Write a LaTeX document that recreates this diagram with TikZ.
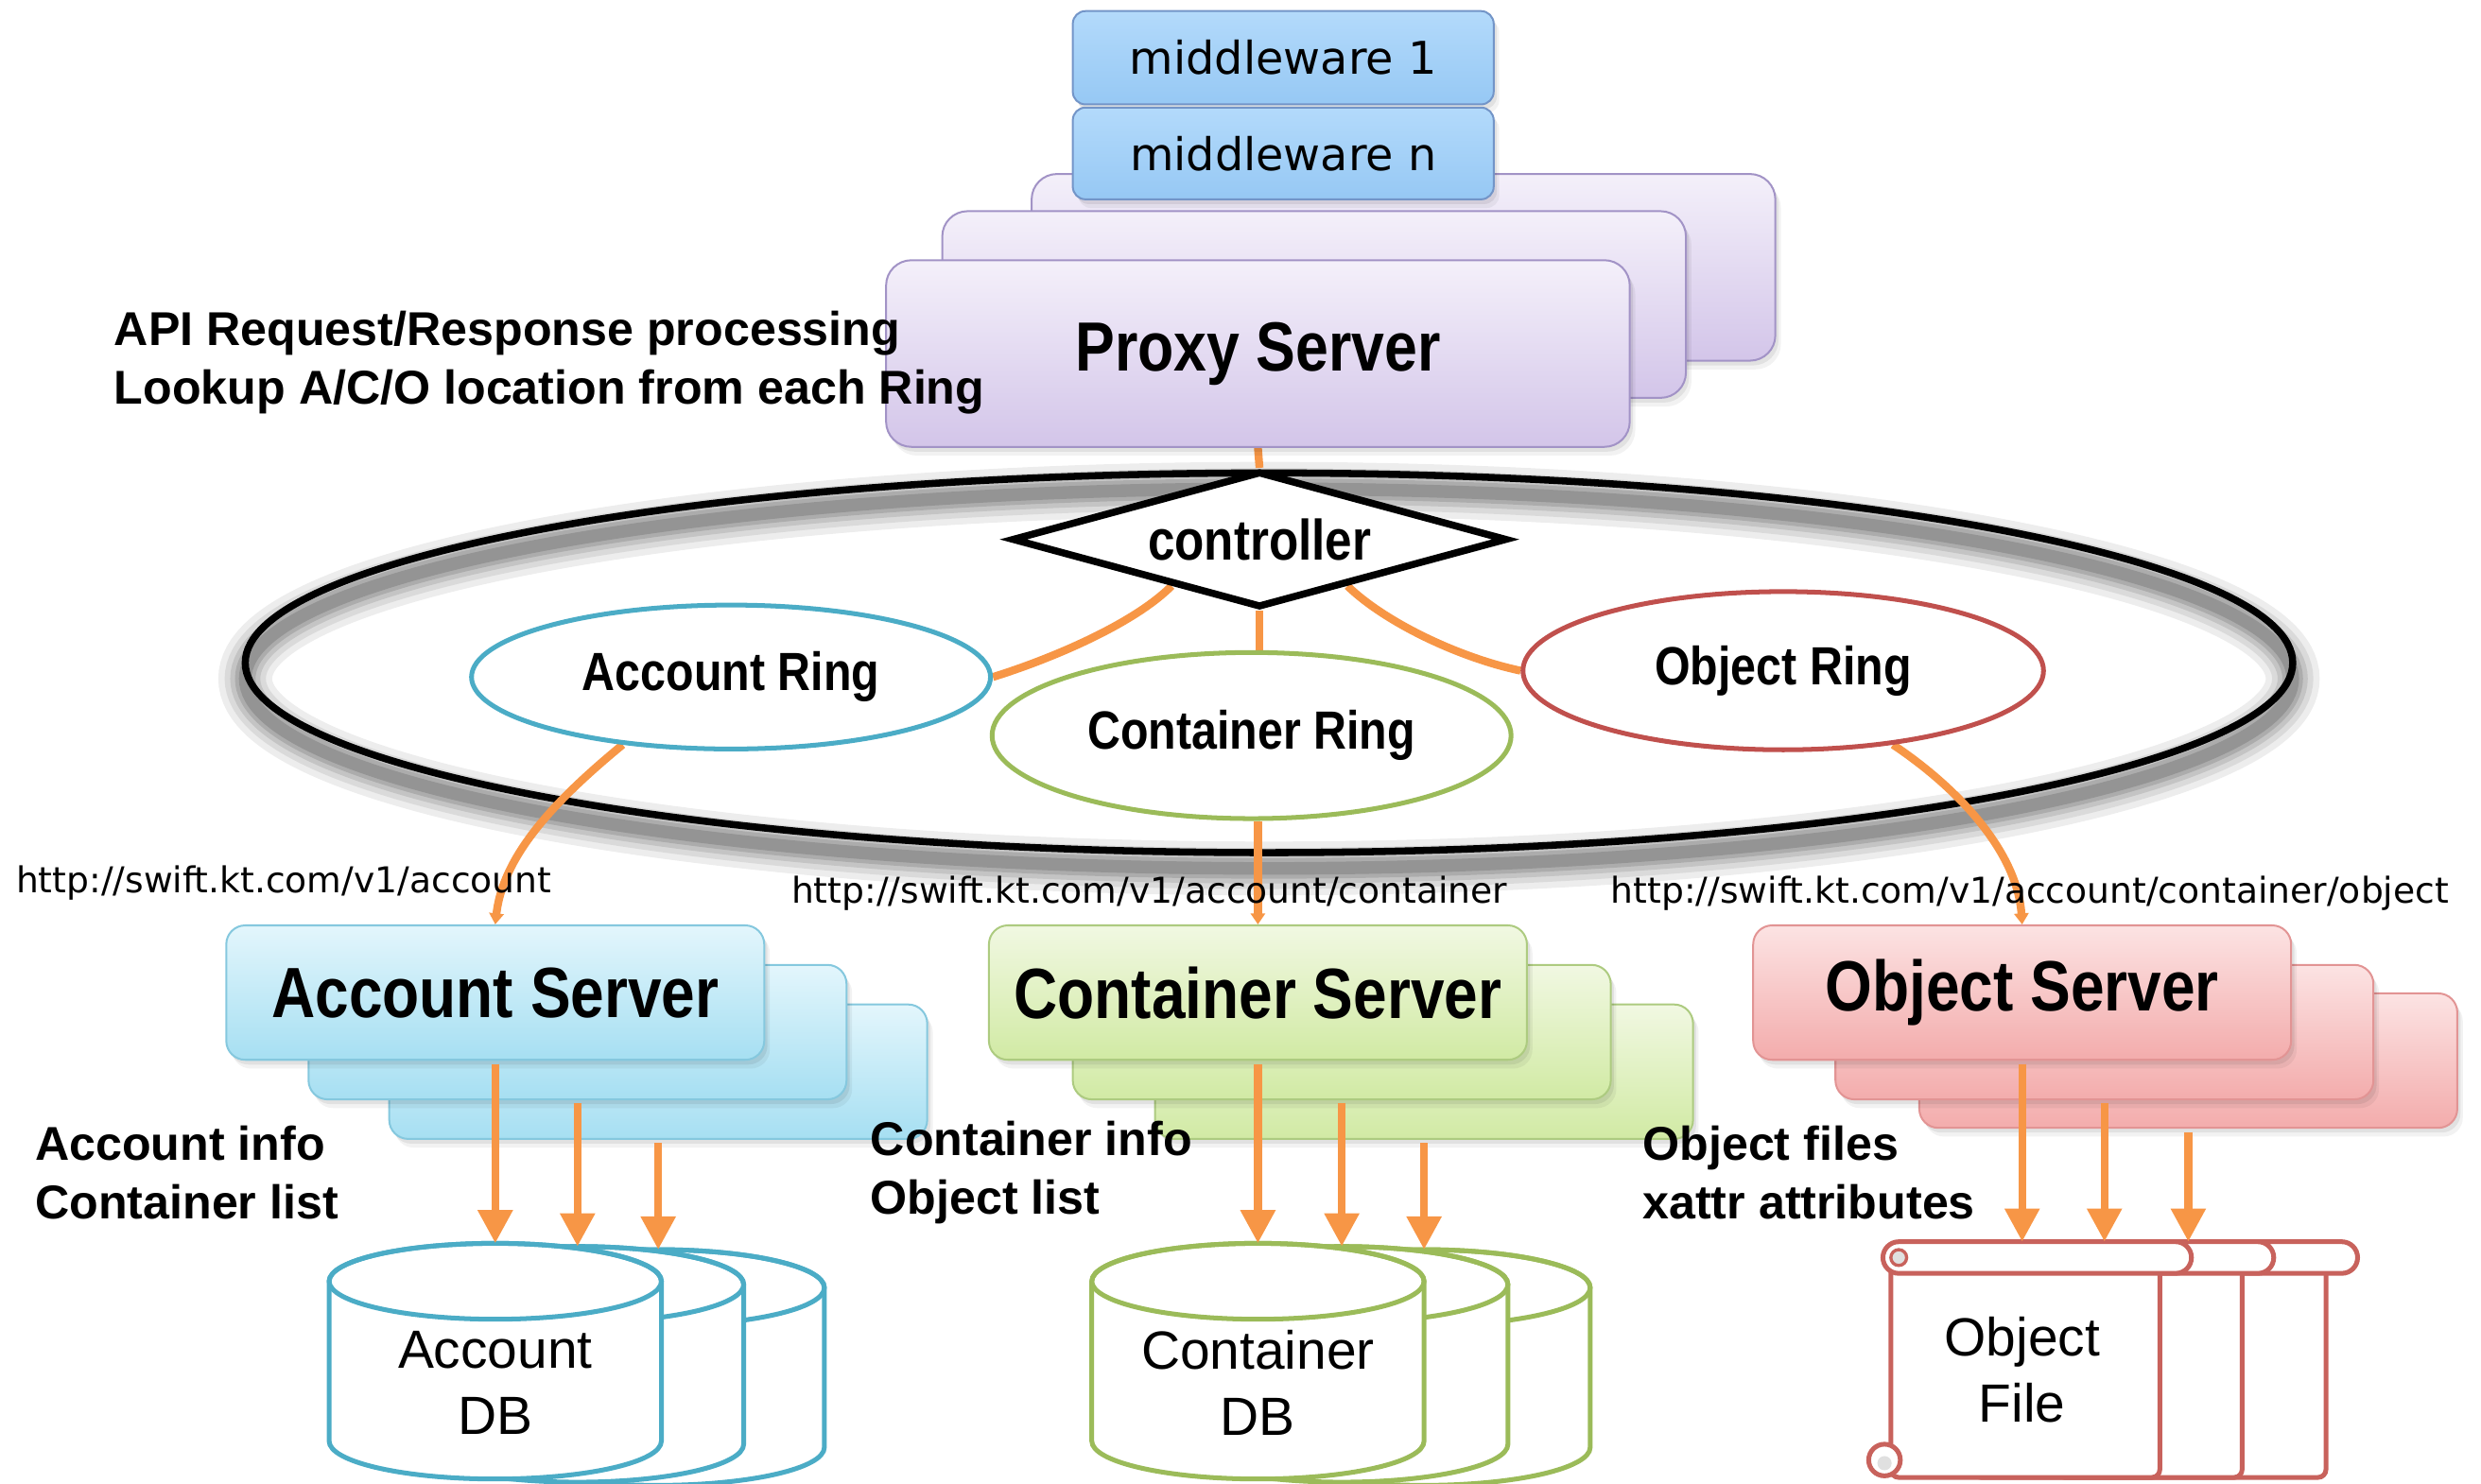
\documentclass[tikz,border=0pt]{standalone}
\usepackage{fontspec}
\setmainfont{Liberation Sans}
\newfontfamily\condfont{Liberation Sans}[FakeStretch=0.85]
\newfontfamily\widefont{DejaVu Sans}
\usetikzlibrary{shapes.geometric,arrows.meta,calc,shadows}

\definecolor{orangeln}{HTML}{F79646}
\definecolor{ringblue}{HTML}{4BACC6}
\definecolor{ringgreen}{HTML}{9BBB59}
\definecolor{ringred}{HTML}{C0504D}
\definecolor{scrollred}{HTML}{C8625C}
\definecolor{mwtop}{HTML}{B3DAFB}
\definecolor{mwbot}{HTML}{96C8F4}
\definecolor{mwline}{HTML}{7395C8}
\definecolor{pxtop}{HTML}{F4F0FA}
\definecolor{pxbot}{HTML}{D3C5E9}
\definecolor{pxline}{HTML}{A293C6}
\definecolor{actop}{HTML}{E3F6FC}
\definecolor{acbot}{HTML}{A6DFF2}
\definecolor{acline}{HTML}{85C8DE}
\definecolor{cttop}{HTML}{F1F8E2}
\definecolor{ctbot}{HTML}{D1EAA4}
\definecolor{ctline}{HTML}{ADCB80}
\definecolor{obtop}{HTML}{FCE3E3}
\definecolor{obbot}{HTML}{F3ACAC}
\definecolor{obline}{HTML}{E29494}

\pgfdeclarelayer{back}
\pgfsetlayers{back,main}

\tikzset{
  softdrop/.style={drop shadow={fill=black, opacity=0.07, shadow xshift=2pt, shadow yshift=-3pt},
                   drop shadow={fill=black, opacity=0.05, shadow xshift=3.5pt, shadow yshift=-5.5pt}},
  mwbox/.style={rectangle, rounded corners=8pt, draw=mwline, line width=1.2pt,
                top color=mwtop, bottom color=mwbot, minimum width=266pt, inner sep=0pt,
                softdrop, font={\widefont\fontsize{28.5}{34}\selectfont}},
  pxbox/.style={rectangle, rounded corners=16pt, draw=pxline, line width=1.2pt,
                top color=pxtop, bottom color=pxbot, minimum width=470pt,
                minimum height=118pt, inner sep=0pt, softdrop},
  srvbox/.style={rectangle, rounded corners=12pt, line width=1.2pt, minimum width=340pt,
                 minimum height=85pt, inner sep=0pt, softdrop,
                 font={\condfont\bfseries\fontsize{45}{52}\selectfont}},
  accsrv/.style={srvbox, draw=acline, top color=actop, bottom color=acbot},
  consrv/.style={srvbox, draw=ctline, top color=cttop, bottom color=ctbot},
  objsrv/.style={srvbox, draw=obline, top color=obtop, bottom color=obbot},
  ringnode/.style={ellipse, fill=white, line width=3pt, inner sep=0pt,
                   font={\condfont\bfseries\fontsize{34}{38}\selectfont}},
  conn/.style={draw=orangeln, line width=5pt},
  tipconn/.style={conn, -{Triangle[length=7pt,width=9pt]}},
  dbarrow/.style={draw=orangeln, line width=5pt, -{Triangle[length=21pt,width=21pt]}, shorten <=2pt},
  note/.style={anchor=west, align=left, inner sep=0pt, font=\bfseries\fontsize{30}{37}\selectfont},
  url/.style={anchor=west, inner sep=0pt, font={\widefont\fontsize{22.5}{27}\selectfont}},
  dblabel/.style={align=center, inner sep=0pt, font=\fontsize{34}{42}\selectfont},
}

% database cylinder: centre x, centre y of top ellipse, colour, name of top point
\newcommand\dbcyl[4]{%
  \filldraw[fill=white, draw=#3, line width=3pt]
    (#1-105,#2) -- (#1-105,#2+101)
    arc[start angle=180, end angle=0, x radius=105, y radius=24]
    -- (#1+105,#2)
    arc[start angle=0, end angle=-180, x radius=105, y radius=24] -- cycle;
  \draw[#3, line width=3pt] (#1,#2) ellipse [x radius=105, y radius=24];
  \coordinate (#4) at (#1,#2-24);
}

% scroll for an object file: left edge of the sheet, name of top point
\newcommand\objscroll[2]{%
  \filldraw[fill=white, draw=scrollred, line width=3pt, rounded corners=5pt]
    (#1,800) -- (#1,934) -- (#1+170,934) -- (#1+170,800);
  \filldraw[fill=white, draw=scrollred, line width=3pt] (#1-4,923) circle[radius=10];
  \fill[black!12] (#1-4,925) circle[radius=4.5];
  \filldraw[fill=white, draw=scrollred, line width=3pt, rounded corners=10pt]
    (#1-5,785) rectangle (#1+190,805);
  \filldraw[fill=black!12, draw=scrollred, line width=2pt] (#1+5,795) circle[radius=5];
  \coordinate (#2) at (#1+83,785);
}

\begin{document}
\begin{tikzpicture}[x=1pt,y=-1pt]
\useasboundingbox (0,0) rectangle (1568,938);

% ring boundary with a soft shadow
\begin{pgfonlayer}{back}
\foreach \w/\o in {34/0.07,26/0.08,19/0.10,13/0.12,8/0.14}
  \draw[black, opacity=\o, line width=\w pt] (802,429) ellipse [x radius=647, y radius=120];
\draw[black, line width=4.5pt] (802,419) ellipse [x radius=647, y radius=120];
\end{pgfonlayer}

% proxy server stack
\node[pxbox] (pback) at (887,169) {};
\node[pxbox] (pmid) at (830.5,192.5) {};
\node[pxbox, font={\condfont\bfseries\fontsize{44}{52}\selectfont}] (proxy) at (795,223.5) {Proxy Server};

% middleware
\node[mwbox, minimum height=59pt] (mw1) at (811,36.5) {middleware 1};
\node[mwbox, minimum height=58pt] (mwn) at (811,97) {middleware n};

\node[note] (apinote) at (72,229) {API Request/Response processing\\Lookup A/C/O location from each Ring};

% controller and rings
\node[diamond, draw=black, fill=white, line width=4.5pt, aspect=3.64,
      minimum width=313pt, minimum height=86pt, inner sep=0pt,
      font={\condfont\bfseries\fontsize{36}{40}\selectfont}] (ctl) at (796,341) {controller};
\node[ringnode, draw=ringblue, minimum width=328pt, minimum height=91pt] (aring) at (462,428) {Account Ring};
\node[ringnode, draw=ringgreen, minimum width=328pt, minimum height=105pt] (cring) at (791,465) {Container Ring};
\node[ringnode, draw=ringred, minimum width=329pt, minimum height=100pt] (oring) at (1127,424) {Object Ring};

% storage servers
\node[accsrv] (asrv3) at (416,677.5) {};
\node[accsrv] (asrv2) at (365,652.5) {};
\node[accsrv] (asrv) at (313,627.5) {Account Server};
\node[consrv] (csrv3) at (900,677.5) {};
\node[consrv] (csrv2) at (848,652.5) {};
\node[consrv] (csrv) at (795,627.5) {Container Server};
\node[objsrv] (osrv3) at (1383,670.5) {};
\node[objsrv] (osrv2) at (1330,652.5) {};
\node[objsrv] (osrv) at (1278,627.5) {Object Server};

% orange links between proxy, controller, rings and servers
\begin{pgfonlayer}{back}
\draw[conn] (proxy.south) -- (ctl.north);
\draw[conn] ($(ctl.south)!0.35!(ctl.west)$) .. controls (717,394) and (666,416) .. (aring.east);
\draw[conn] (ctl.south) -- (ctl.south |- cring.north);
\draw[conn] ($(ctl.south)!0.35!(ctl.east)$) .. controls (876,394) and (923,416) .. (oring.west);
\draw[tipconn] (aring.212) .. controls (352,505) and (318,540) .. (asrv.north);
\draw[tipconn] (cring.south -| csrv.north) -- (csrv.north);
\draw[tipconn] (oring.326) .. controls (1240,500) and (1275,540) .. (osrv.north);
\end{pgfonlayer}

% request paths
\node[url] (accurl) at (10,558) {http://swift.kt.com/v1/account};
\node[url] (conurl) at (500,565) {http://swift.kt.com/v1/account/container};
\node[url] (objurl) at (1018,565) {http://swift.kt.com/v1/account/container/object};

% stored data
\node[note] (accnote) at (22,741.5) {Account info\\Container list};
\node[note] (connote) at (550,741.5) {Container info\\Object list};
\node[note] (objnote) at (1038,741.5) {Object files\\xattr attributes};

% databases and object files
\dbcyl{416}{814}{ringblue}{adb3}
\dbcyl{365}{812}{ringblue}{adb2}
\dbcyl{313}{810}{ringblue}{adb1}
\node[dblabel] (adblabel) at (313,874) {Account\\DB};

\dbcyl{900}{814}{ringgreen}{cdb3}
\dbcyl{848}{812}{ringgreen}{cdb2}
\dbcyl{795}{810}{ringgreen}{cdb1}
\node[dblabel] (cdblabel) at (795,874) {Container\\DB};

\objscroll{1300}{of3}
\objscroll{1247}{of2}
\objscroll{1195}{of1}
\node[dblabel] (oflabel) at (1278,866) {Object\\File};

\draw[dbarrow] (asrv.south) -- (adb1);
\draw[dbarrow] (asrv2.south) -- (adb2);
\draw[dbarrow] (asrv3.south) -- (adb3);
\draw[dbarrow] (csrv.south) -- (cdb1);
\draw[dbarrow] (csrv2.south) -- (cdb2);
\draw[dbarrow] (csrv3.south) -- (cdb3);
\draw[dbarrow] (osrv.south) -- (of1);
\draw[dbarrow] (osrv2.south) -- (of2);
\draw[dbarrow] (osrv3.south) -- (of3);
\end{tikzpicture}
\end{document}
